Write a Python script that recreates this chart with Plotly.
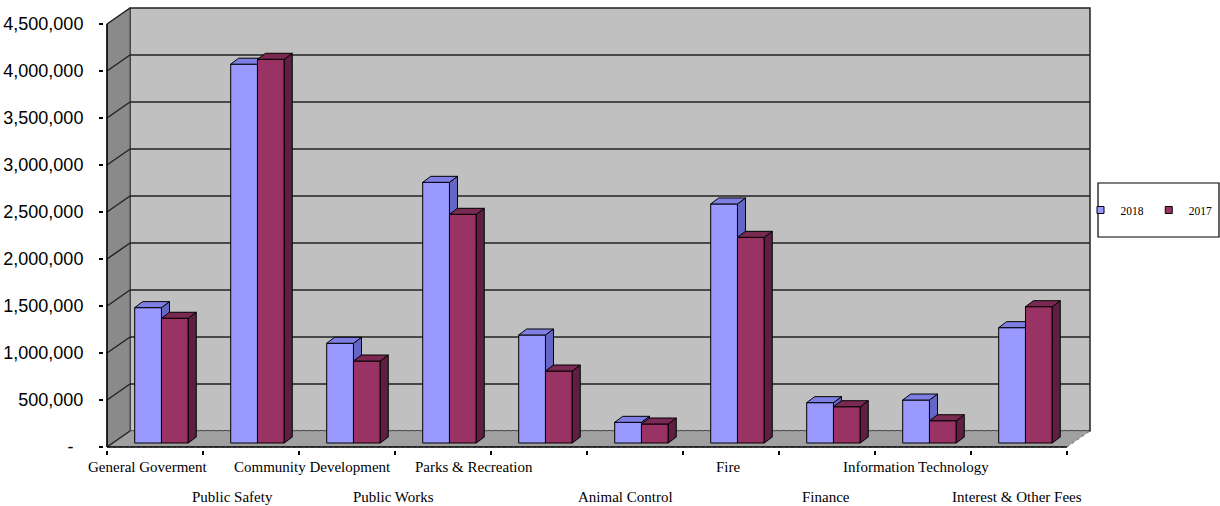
import plotly.graph_objects as go

# ---------------- data ----------------
categories = ["General Goverment", "Public Safety", "Community Development", "Public Works",
              "Parks & Recreation", "Animal Control", "Fire", "Finance",
              "Information Technology", "Interest & Other Fees"]
values_2018 = [1440000, 4030000, 1061000, 2773000, 1149000, 220000, 2543000, 429000, 457000, 1227000]
values_2017 = [1327000, 4082000, 872000, 2433000, 766000, 202000, 2188000, 386000, 237000, 1450000]
series_names = ["2018", "2017"]
ytick_vals = [0, 500000, 1000000, 1500000, 2000000, 2500000, 3000000, 3500000, 4000000, 4500000]
ytick_text = ["-\u00a0\u00a0", "500,000", "1,000,000", "1,500,000", "2,000,000", "2,500,000",
              "3,000,000", "3,500,000", "4,000,000", "4,500,000"]

# ---------------- geometry / style ----------------
W, H = 1220, 506
CAT_PX = 96.0            # px per category on the front plane
PX_PER_UNIT = 47.0 / 500000.0
FRONT_LEFT_PX = 107
ZERO_PX = 447
PLOT_L, PLOT_R, PLOT_T, PLOT_B = 104, 1097, 5, 450

def px_to_u(px):
    return (px - FRONT_LEFT_PX) / CAT_PX - 0.5

def py_to_v(py):
    return (ZERO_PX - py) / PX_PER_UNIT

x_range = [px_to_u(PLOT_L), px_to_u(PLOT_R)]
y_range = [py_to_v(PLOT_B), py_to_v(PLOT_T)]

n = len(categories)
ymax_front = ytick_vals[-1]
# wall depth
dxw = 23 / CAT_PX
dyw = 16 / PX_PER_UNIT
# bar plane offset & bar depth
bar_base = 4 / PX_PER_UNIT
bar_w = 0.279
bar_off = [-0.072, 0.207]
dxb = 8 / CAT_PX
dyb = 6 / PX_PER_UNIT

front_cols = ["#9999FF", "#993366"]
top_cols = ["#7F7FE3", "#7A2952"]
side_cols = ["#6666C6", "#5E1F40"]

label_shift_px = [-7, -19, -35, -50, -65, -10, -3, -1, -7, -2]

fig = go.Figure()

series = [values_2018, values_2017]
axes = [("x", "y"), ("x2", "y2")]
for s, vals in enumerate(series):
    xa, ya = axes[s]
    xs = [i + bar_off[s] for i in range(n)]
    fig.add_trace(go.Bar(
        x=xs, y=vals, base=[bar_base] * n, width=bar_w,
        marker=dict(color=front_cols[s], line=dict(color="black", width=1)),
        showlegend=False, xaxis=xa, yaxis=ya, hoverinfo="skip"))
    sx, sy, tx, ty = [], [], [], []
    for xc, v in zip(xs, vals):
        x0, x1 = xc - bar_w / 2, xc + bar_w / 2
        top = bar_base + v
        sx += [x1, x1, x1 + dxb, x1 + dxb, x1, None]
        sy += [bar_base, top, top + dyb, bar_base + dyb, bar_base, None]
        tx += [x0, x1, x1 + dxb, x0 + dxb, x0, None]
        ty += [top, top, top + dyb, top + dyb, top, None]
    fig.add_trace(go.Scatter(x=sx, y=sy, mode="lines", fill="toself", fillcolor=side_cols[s],
                             line=dict(color="black", width=1), showlegend=False,
                             xaxis=xa, yaxis=ya, hoverinfo="skip"))
    fig.add_trace(go.Scatter(x=tx, y=ty, mode="lines", fill="toself", fillcolor=top_cols[s],
                             line=dict(color="black", width=1), showlegend=False,
                             xaxis=xa, yaxis=ya, hoverinfo="skip"))
    fig.add_trace(go.Scatter(x=[None], y=[None], mode="markers", name=series_names[s],
                             marker=dict(symbol="square", size=7, color=front_cols[s],
                                         line=dict(color="black", width=1)),
                             xaxis=xa, yaxis=ya))

shapes = []
x_left = -0.5
x_right = n - 0.5
shapes.append(dict(type="rect", xref="x", yref="y", x0=x_left + dxw, x1=x_right + dxw,
                   y0=dyw, y1=ymax_front + dyw, fillcolor="#C0C0C0",
                   line=dict(color="#222", width=1.5), layer="below"))
shapes.append(dict(type="path", xref="x", yref="y",
                   path=f"M{x_left},0 L{x_left},{ymax_front} L{x_left+dxw},{ymax_front+dyw} L{x_left+dxw},{dyw} Z",
                   fillcolor="#8A8A8A", line=dict(color="#444", width=1), layer="below"))
shapes.append(dict(type="path", xref="x", yref="y",
                   path=f"M{x_left},0 L{x_right},0 L{x_right+dxw},{dyw} L{x_left+dxw},{dyw} Z",
                   fillcolor="#A0A0A0", line=dict(color="#777", width=1, dash="dot"), layer="below"))
for v in ytick_vals[1:]:
    shapes.append(dict(type="line", xref="x", yref="y", x0=x_left, y0=v, x1=x_left + dxw, y1=v + dyw,
                       line=dict(color="#222", width=1.5), layer="below"))
    if v < ymax_front:
        shapes.append(dict(type="line", xref="x", yref="y", x0=x_left + dxw, y0=v + dyw,
                           x1=x_right + dxw, y1=v + dyw, line=dict(color="#222", width=1.5), layer="below"))
shapes.append(dict(type="line", xref="x", yref="y", x0=x_left, y0=0, x1=x_left + dxw, y1=dyw,
                   line=dict(color="#222", width=1.5), layer="below"))
shapes.append(dict(type="line", xref="x", yref="y", x0=x_left, y0=0, x1=x_left, y1=ymax_front,
                   line=dict(color="black", width=1.5)))
shapes.append(dict(type="line", xref="x", yref="y", x0=x_left, y0=0, x1=x_right, y1=0,
                   line=dict(color="black", width=1.5)))
pw = PLOT_R - PLOT_L
ph = PLOT_B - PLOT_T
def pxp(px):
    return (px - PLOT_L) / pw
def pyp(py):
    return (PLOT_B - py) / ph
shapes.append(dict(type="rect", xref="paper", yref="paper", x0=pxp(1098), x1=pxp(1219),
                   y0=pyp(237), y1=pyp(183), line=dict(color="black", width=1.2),
                   fillcolor="white"))

annotations = []
for i, c in enumerate(categories):
    row_py = 466.5 if i % 2 == 0 else 497
    annotations.append(dict(x=i, xref="x", y=pyp(row_py), yref="paper", text=c, showarrow=False,
                            xanchor="center", yanchor="middle", xshift=label_shift_px[i],
                            font=dict(family="Liberation Serif, Times New Roman, serif",
                                      size=15, color="black")))

fig.update_layout(
    width=W, height=H,
    margin=dict(l=PLOT_L, r=W - PLOT_R, t=PLOT_T, b=H - PLOT_B, pad=0, autoexpand=False),
    paper_bgcolor="white", plot_bgcolor="white",
    showlegend=True,
    legend=dict(orientation="h", x=pxp(1149), y=pyp(210), xanchor="center", yanchor="middle",
                bgcolor="rgba(0,0,0,0)", borderwidth=0,
                font=dict(family="Liberation Serif, Times New Roman, serif", size=11.5, color="black"),
                itemwidth=30, tracegroupgap=0),
    xaxis=dict(range=x_range, showgrid=False, zeroline=False, showline=False,
               tickmode="array", tickvals=[i - 0.5 for i in range(n + 1)], ticktext=[""] * (n + 1),
               ticks="outside", ticklen=4, tickcolor="black", tickwidth=1.5),
    yaxis=dict(range=y_range, showgrid=False, zeroline=False, showline=False,
               tickmode="array", tickvals=ytick_vals, ticktext=ytick_text,
               ticks="outside", ticklen=4, tickcolor="black", tickwidth=1.5,
               ticklabelstandoff=12,
               tickfont=dict(family="Liberation Sans, Arial, sans-serif", size=18, color="black")),
    xaxis2=dict(range=x_range, overlaying="x", visible=False),
    yaxis2=dict(range=y_range, overlaying="y", visible=False),
    barmode="overlay",
    shapes=shapes,
    annotations=annotations,
)

fig.write_html("out.html")
